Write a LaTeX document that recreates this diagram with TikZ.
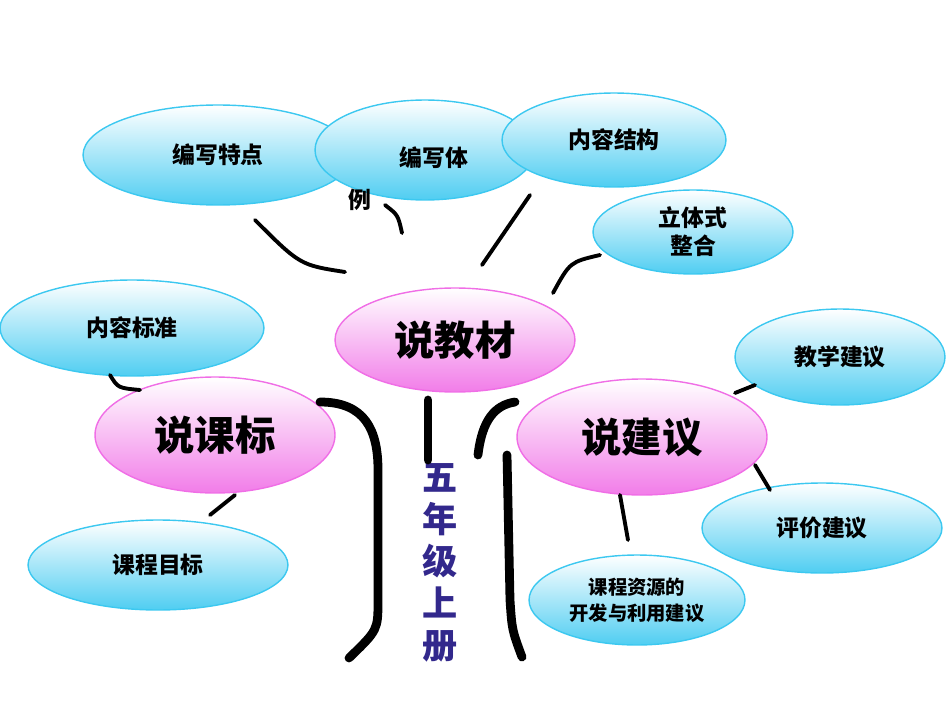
\documentclass[tikz,border=0pt]{standalone}
\usepackage{fontspec}
\newfontfamily\cjk{Noto Sans CJK SC}
\usetikzlibrary{shapes.geometric, positioning}
\definecolor{bluebub}{RGB}{60,200,240}
\definecolor{pinkbub}{RGB}{240,110,230}
\definecolor{trunktext}{RGB}{50,40,140}
\tikzset{
  bubble/.style={ellipse, draw=bluebub, thick, top color=white, bottom color=bluebub!90,
    font=\cjk\fontsize{13}{16}\selectfont\bfseries, align=center, inner sep=0pt},
  bigbubble/.style={ellipse, draw=pinkbub, thick, top color=white, bottom color=pinkbub!90,
    font=\cjk\fontsize{23}{26}\selectfont\bfseries, inner sep=0pt},
  twig/.style={line width=2.2pt, line cap=round},
  trunk/.style={line width=5pt, line cap=round}
}
\begin{document}
\begin{tikzpicture}[x=0.02cm, y=-0.02cm]
  \useasboundingbox (0,0) rectangle (950,713);
  % leaves
  \node [bubble, minimum width=5.4cm, minimum height=2cm] (tedian) at (218,155) {编写特点};
  \node [bubble, minimum width=4.4cm, minimum height=2cm] (tili) at (425,150) {\raisebox{-20pt}{\hspace*{10pt}编写体}};
  \node [font=\cjk\fontsize{13}{16}\selectfont\bfseries] (li) at (360,200) {例};
  \node [bubble, minimum width=4.48cm, minimum height=1.88cm] (jiegou) at (614,140) {内容结构};
  \node [bubble, minimum width=4cm, minimum height=1.68cm] (zhenghe) at (693,232) {立体式\\整合};
  \node [bubble, minimum width=5.28cm, minimum height=1.92cm] (biaozhun) at (132,328) {内容标准};
  \node [bubble, minimum width=5.2cm, minimum height=1.8cm] (mubiao) at (158,565) {课程目标};
  \node [bubble, minimum width=4.2cm, minimum height=1.92cm] (jiaoxue) at (840,357) {教学建议};
  \node [bubble, minimum width=4.8cm, minimum height=1.8cm] (pingjia) at (822,528) {评价建议};
  \node [bubble, minimum width=4.32cm, minimum height=1.8cm, font=\cjk\fontsize{11}{15}\selectfont\bfseries] (ziyuan) at (637,600) {课程资源的\\开发与利用建议};
  % main bubbles
  \node [bigbubble, minimum width=4.8cm, minimum height=2.08cm] (jiaocai) at (455,340) {说教材};
  \node [bigbubble, minimum width=4.8cm, minimum height=2.32cm] (kebiao) at (215,435) {说课标};
  \node [bigbubble, minimum width=5cm, minimum height=2.32cm] (jianyi) at (642,437) {说建议};
  % trunk label
  \node [font=\cjk\fontsize{20}{24}\selectfont\bfseries, text=trunktext, align=center] (nianji) at (440,563) {五\\年\\级\\上\\册};
  % twigs
  \draw [twig] (255,220) .. controls (300,265) .. (345,272);
  \draw [twig] (385,205) .. controls (398,215) .. (402,233);
  \draw [twig] (530,195) -- (482,265);
  \draw [twig] (600,255) .. controls (570,262) .. (553,293);
  \draw [twig] (110,375) .. controls (118,388) .. (140,390);
  \draw [twig] (210,515) -- (235,495);
  \draw [twig] (735,393) -- (755,385);
  \draw [twig] (620,495) -- (628,540);
  \draw [twig] (755,465) -- (770,490);
  % trunk
  \draw [trunk] (320,402) .. controls (365,402) and (378,430) .. (378,470)
    -- (378,600) .. controls (378,630) .. (349,658);
  \draw [trunk] (428,400) -- (428,460);
  \draw [trunk] (478,455) .. controls (482,420) and (495,405) .. (515,402);
  \draw [trunk] (507,455) -- (510,600) .. controls (512,630) .. (522,657);
\end{tikzpicture}
\end{document}
